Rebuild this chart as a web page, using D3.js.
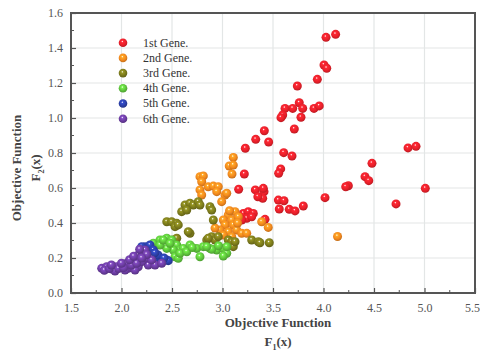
<!DOCTYPE html>
<html>
<head>
<meta charset="utf-8">
<script src="https://cdn.jsdelivr.net/npm/d3@7"></script>
<style>
  body { margin: 0; background: #fff; }
  text { font-family: "Liberation Serif", "DejaVu Serif", serif; }
</style>
</head>
<body>
<div id="chart"></div>
<script>
// legend names / colours
const genes = ["1st Gene.", "2nd Gene.", "3rd Gene.", "4th Gene.", "5th Gene.", "6th Gene."];
const colors = ["#e8202a", "#f2881e", "#7b7a1c", "#5ec23c", "#2b3fa6", "#6b3da0"];

const xTicks = [1.5, 2.0, 2.5, 3.0, 3.5, 4.0, 4.5, 5.0, 5.5];
const yTicks = [0.0, 0.2, 0.4, 0.6, 0.8, 1.0, 1.2, 1.4, 1.6];

// points, [F1, F2]
const gen1 = [[4.12,1.478],[4.025,1.461],[4.005,1.303],[4.032,1.284],[3.939,1.221],[3.741,1.183],
  [3.76,1.087],[3.794,1.055],[3.695,1.055],[3.619,1.055],[3.596,1.017],[3.579,1.002],[3.777,1.004],
  [3.906,1.055],[3.958,1.069],[3.711,0.937],[3.414,0.927],[3.329,0.878],[3.457,0.863],[3.226,0.827],
  [3.606,0.802],[3.688,0.783],[3.576,0.709],[3.556,0.684],[3.216,0.68],[4.48,0.741],[4.411,0.665],
  [4.448,0.642],[4.837,0.829],[4.916,0.838],[4.246,0.613],[4.22,0.607],[5.008,0.598],[4.015,0.545],
  [3.8,0.497],[4.718,0.509],[3.16,0.593],[3.325,0.589],[3.411,0.579],[3.398,0.541],[3.553,0.531],
  [3.609,0.527],[3.562,0.48],[3.661,0.478],[3.718,0.469],[3.206,0.455],[3.255,0.465],[3.305,0.455],
  [3.24,0.427],[3.19,0.417],[3.289,0.436],[3.421,0.421],[3.404,0.598],[3.35,0.55]];
const gen2 = [[3.107,0.775],[3.067,0.726],[3.094,0.68],[3.107,0.731],[4.139,0.323],[2.777,0.665],
  [2.81,0.669],[2.794,0.636],[2.859,0.607],[2.909,0.611],[2.958,0.607],[2.943,0.579],[3.025,0.56],
  [3.042,0.57],[2.777,0.589],[2.794,0.56],[2.992,0.522],[3.124,0.465],[3.057,0.446],[3.008,0.417],
  [3.091,0.417],[3.157,0.436],[3.025,0.389],[3.107,0.389],[2.975,0.36],[3.057,0.35],[3.14,0.36],
  [3.19,0.341],[3.24,0.341],[3.091,0.322],[3.008,0.331],[3.388,0.407],[3.453,0.375],[2.926,0.371],
  [3.07,0.47],[3.15,0.4]];
const gen3 = [[2.629,0.503],[2.678,0.513],[2.711,0.503],[2.76,0.522],[2.777,0.503],[2.596,0.465],
  [2.646,0.474],[2.876,0.493],[2.893,0.474],[2.909,0.417],[2.448,0.407],[2.497,0.407],[2.547,0.398],
  [2.53,0.379],[2.678,0.341],[2.513,0.303],[2.844,0.303],[2.893,0.322],[2.926,0.303],[3.057,0.303],
  [3.091,0.293],[3.107,0.265],[3.289,0.303],[3.355,0.293],[3.371,0.287],[3.463,0.287],[2.859,0.313],
  [2.958,0.322],[3.124,0.293],[2.547,0.313],[2.661,0.35],[2.562,0.389]];
const gen4 = [[2.315,0.284],[2.381,0.303],[2.448,0.313],[2.497,0.303],[2.547,0.274],[2.579,0.246],
  [2.513,0.246],[2.448,0.255],[2.381,0.274],[2.53,0.207],[2.562,0.198],[2.612,0.255],[2.678,0.274],
  [2.745,0.255],[2.81,0.265],[2.876,0.255],[2.943,0.246],[3.008,0.255],[3.042,0.227],[2.579,0.227],
  [2.646,0.236],[2.893,0.25],[3.008,0.211],[2.777,0.207],[2.414,0.303],[2.48,0.284],[2.844,0.265],
  [3.042,0.265],[2.7,0.26],[2.96,0.27]];
const gen5 = [[2.233,0.265],[2.265,0.236],[2.299,0.207],[2.349,0.198],[2.398,0.189],[2.448,0.189],
  [2.282,0.274],[2.315,0.246],[2.249,0.207],[2.216,0.246],[2.463,0.185],[2.2,0.265],[2.361,0.217],
  [2.33,0.23],[2.42,0.2]];
const gen6 = [[1.804,0.141],[1.853,0.15],[1.903,0.137],[1.952,0.15],[2.002,0.16],[2.051,0.17],
  [2.101,0.179],[2.134,0.198],[2.166,0.217],[2.2,0.236],[2.233,0.246],[2.067,0.141],[2.166,0.15],
  [2.265,0.16],[2.332,0.16],[2.398,0.17],[2.233,0.198],[2.2,0.179],[1.936,0.126],[2.035,0.131],
  [2.134,0.131],[2.299,0.189],[1.83,0.13],[1.88,0.14],[1.97,0.14],[2.02,0.145],[2.1,0.16],
  [2.15,0.17],[2.08,0.19],[2.12,0.21],[2.18,0.25],[2.25,0.22],[2.2,0.2],[1.9,0.16],[2.0,0.17]];
const series = [gen1, gen2, gen3, gen4, gen5, gen6];

const W = 480, H = 353;
const margin = {top: 13, right: 5, bottom: 60, left: 71};
const cw = W - margin.left - margin.right;
const ch = H - margin.top - margin.bottom;

const svg = d3.select("#chart").append("svg")
  .attr("width", W).attr("height", H);

// sphere look for the markers
const defs = svg.append("defs");
colors.forEach((c, i) => {
  const g = defs.append("radialGradient").attr("id", "ball" + i)
    .attr("cx", "45%").attr("cy", "40%").attr("r", "60%").attr("fx", "42%").attr("fy", "35%");
  g.append("stop").attr("offset", "0%").attr("stop-color", "#fff");
  g.append("stop").attr("offset", "22%").attr("stop-color", d3.color(c).brighter(0.6));
  g.append("stop").attr("offset", "65%").attr("stop-color", c);
  g.append("stop").attr("offset", "100%").attr("stop-color", d3.color(c).darker(0.6));
});

const x = d3.scaleLinear().domain([1.5, 5.5]).range([0, cw]);
const y = d3.scaleLinear().domain([0, 1.6]).range([ch, 0]);

const g = svg.append("g").attr("transform", "translate(" + margin.left + "," + margin.top + ")");

// grid
g.append("g").selectAll("line").data(xTicks.slice(1, -1)).enter().append("line")
  .attr("x1", d => x(d)).attr("x2", d => x(d)).attr("y1", 0).attr("y2", ch)
  .attr("stroke", "#e3e6e6").attr("stroke-width", 1.2);
g.append("g").selectAll("line").data(yTicks.slice(1, -1)).enter().append("line")
  .attr("y1", d => y(d)).attr("y2", d => y(d)).attr("x1", 0).attr("x2", cw)
  .attr("stroke", "#e3e6e6").attr("stroke-width", 1.2);

// axes, ticks pointing inward
const xAxis = g.append("g").attr("transform", "translate(0," + ch + ")")
  .call(d3.axisBottom(x).tickValues(xTicks).tickFormat(d3.format(".1f")).tickSize(-5).tickPadding(10));
xAxis.append("g").selectAll("line").data(d3.range(1.75, 5.5, 0.5)).enter().append("line")
  .attr("x1", d => x(d)).attr("x2", d => x(d)).attr("y1", 0).attr("y2", -3).attr("stroke", "#555");
const yAxis = g.append("g")
  .call(d3.axisLeft(y).tickValues(yTicks).tickFormat(d3.format(".1f")).tickSize(-5).tickPadding(8));
yAxis.append("g").selectAll("line").data(d3.range(0.1, 1.6, 0.2)).enter().append("line")
  .attr("y1", d => y(d)).attr("y2", d => y(d)).attr("x1", 0).attr("x2", 3).attr("stroke", "#555");
[xAxis, yAxis].forEach(a => {
  a.select(".domain").remove();
  a.selectAll(".tick line").attr("stroke", "#555").attr("stroke-width", 1.2);
  a.selectAll(".tick text").attr("fill", "#555").style("font-size", "12px")
    .style("font-family", "'Liberation Serif', serif");
});
// last label sits at the window edge; nudge it in so it stays readable
xAxis.selectAll(".tick text").filter(d => d === 5.5).attr("dx", -3);

// points
series.forEach((pts, i) => {
  g.append("g").selectAll("circle").data(pts).enter().append("circle")
    .attr("cx", d => x(d[0])).attr("cy", d => y(d[1])).attr("r", 4.5)
    .attr("fill", "url(#ball" + i + ")");
});

// frame
g.append("rect").attr("width", cw).attr("height", ch)
  .attr("fill", "none").attr("stroke", "#555").attr("stroke-width", 2);

// legend
const leg = g.append("g").attr("transform", "translate(" + (123 - margin.left) + "," + (42.7 - margin.top) + ")");
genes.forEach((name, i) => {
  leg.append("circle").attr("cx", 0).attr("cy", i * 15.2).attr("r", 4.3).attr("fill", "url(#ball" + i + ")");
  leg.append("text").attr("x", 20).attr("y", i * 15.2 + 4).text(name)
    .style("font-size", "12px").attr("fill", "#333");
});

// axis titles
const xt = svg.append("text").attr("text-anchor", "middle").attr("x", 278).attr("fill", "#444")
  .style("font-size", "13px").style("font-weight", "bold");
xt.append("tspan").attr("x", 278).attr("y", 327).text("Objective Function");
const xt2 = xt.append("tspan").attr("x", 278).attr("y", 346);
xt2.append("tspan").text("F");
xt2.append("tspan").attr("dy", 4).style("font-size", "8px").text("1");
xt2.append("tspan").attr("dy", -4).text("(x)");

const yt = svg.append("text").attr("text-anchor", "middle").attr("fill", "#444")
  .attr("transform", "translate(0,168) rotate(-90)")
  .style("font-size", "13px").style("font-weight", "bold");
yt.append("tspan").attr("x", 0).attr("y", 21).text("Objective Function");
const yt2 = yt.append("tspan").attr("x", 0).attr("y", 40);
yt2.append("tspan").text("F");
yt2.append("tspan").attr("dy", 4).style("font-size", "8px").text("2");
yt2.append("tspan").attr("dy", -4).text("(x)");
</script>
</body>
</html>
